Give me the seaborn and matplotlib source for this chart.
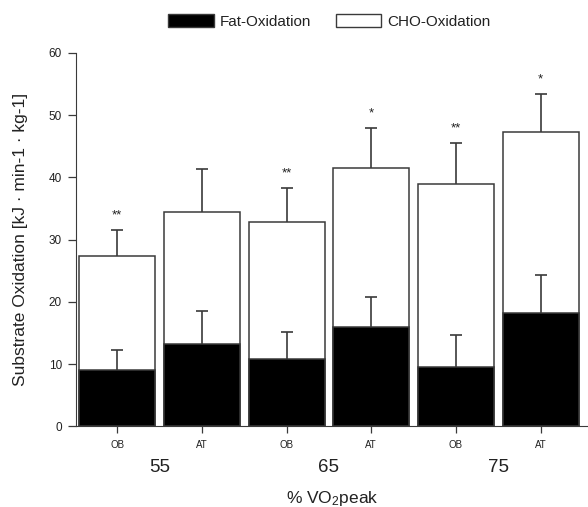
import matplotlib
matplotlib.use("Agg")
import matplotlib.pyplot as plt
import matplotlib.patches as mpatches
import numpy as np
import pandas as pd
import seaborn as sns

# values
conditions = ["OB 55", "AT 55", "OB 65", "AT 65", "OB 75", "AT 75"]
groups = ["OB", "AT", "OB", "AT", "OB", "AT"]
intensities = ["55", "65", "75"]
total_ox = [27.4, 34.5, 32.8, 41.5, 39.0, 47.3]
total_sd = [4.1, 6.9, 5.5, 6.4, 6.5, 6.1]
fat_ox = [9.0, 13.3, 10.8, 15.9, 9.5, 18.2]
fat_sd = [3.3, 5.2, 4.3, 4.8, 5.2, 6.1]
stars = ["**", "", "**", "*", "**", "*"]

sns.set_style("ticks")
plt.rcParams["font.family"] = ["Liberation Sans", "DejaVu Sans"]
plt.rcParams["mathtext.fontset"] = "custom"
plt.rcParams["mathtext.rm"] = "Liberation Sans"
plt.rcParams["mathtext.default"] = "regular"

df = pd.DataFrame({"cond": conditions, "total": total_ox, "fat": fat_ox})

fig = plt.figure(figsize=(5.88, 5.07), dpi=100)
ax = fig.add_axes([0.129, 0.159, 0.871, 0.737])

edge = "#3a3a3a"
txt = "#222222"
sns.barplot(data=df, x="cond", y="total", color="white", edgecolor=edge,
            linewidth=1.1, width=0.9, saturation=1, ax=ax, zorder=1)
sns.barplot(data=df, x="cond", y="fat", color="black", edgecolor=edge,
            linewidth=1.1, width=0.9, saturation=1, ax=ax, zorder=2)

# upward-only error bars, no cap at the bar top
x = np.arange(len(conditions))
zeros = np.zeros(len(conditions))
for vals, sds in [(total_ox, total_sd), (fat_ox, fat_sd)]:
    eb = ax.errorbar(x, vals, yerr=[zeros, sds], fmt="none", ecolor=edge,
                     elinewidth=1.2, capsize=4, capthick=1.2, zorder=3)
    eb[1][0].set_visible(False)

for xi, top, sd, s in zip(x, total_ox, total_sd, stars):
    if s:
        ax.annotate(s, (xi, top + sd), xytext=(0, 6), textcoords="offset points",
                    ha="center", va="bottom", fontsize=9.5, color=txt)

ax.set_xlim(-0.49, 5.56)
ax.set_ylim(0, 60)
ax.set_yticks(range(0, 61, 10))
ax.set_xticks(x)
ax.set_xticklabels(groups, fontsize=7)
ax.tick_params(axis="y", labelsize=8.5, length=6, width=0.9, color=edge,
               labelcolor=txt, pad=4)
ax.tick_params(axis="x", length=5, width=0.9, color=edge, labelcolor=txt, pad=5)

for i, lab in enumerate(intensities):
    ax.text(2 * i + 0.5, -0.11, lab, transform=ax.get_xaxis_transform(),
            ha="center", va="center", fontsize=13.5, color=txt)

ax.set_xlabel("% VO$_2$peak", fontsize=12.5, color=txt, labelpad=28)
ax.set_ylabel("Substrate Oxidation [kJ · min-1 · kg-1]", fontsize=12.5,
              color=txt, labelpad=15)

sns.despine(ax=ax)
ax.spines["left"].set_color(edge)
ax.spines["bottom"].set_color(edge)

handles = [mpatches.Patch(facecolor="black", edgecolor=edge, label="Fat-Oxidation"),
           mpatches.Patch(facecolor="white", edgecolor=edge, label="CHO-Oxidation")]
fig.legend(handles=handles, loc="upper center", bbox_to_anchor=(0.56, 1.0), ncol=2,
           frameon=False, fontsize=11, handlelength=3.0, handleheight=1.0,
           handletextpad=0.4, columnspacing=1.6, labelcolor=txt)

fig.savefig("out.png", dpi=100)
